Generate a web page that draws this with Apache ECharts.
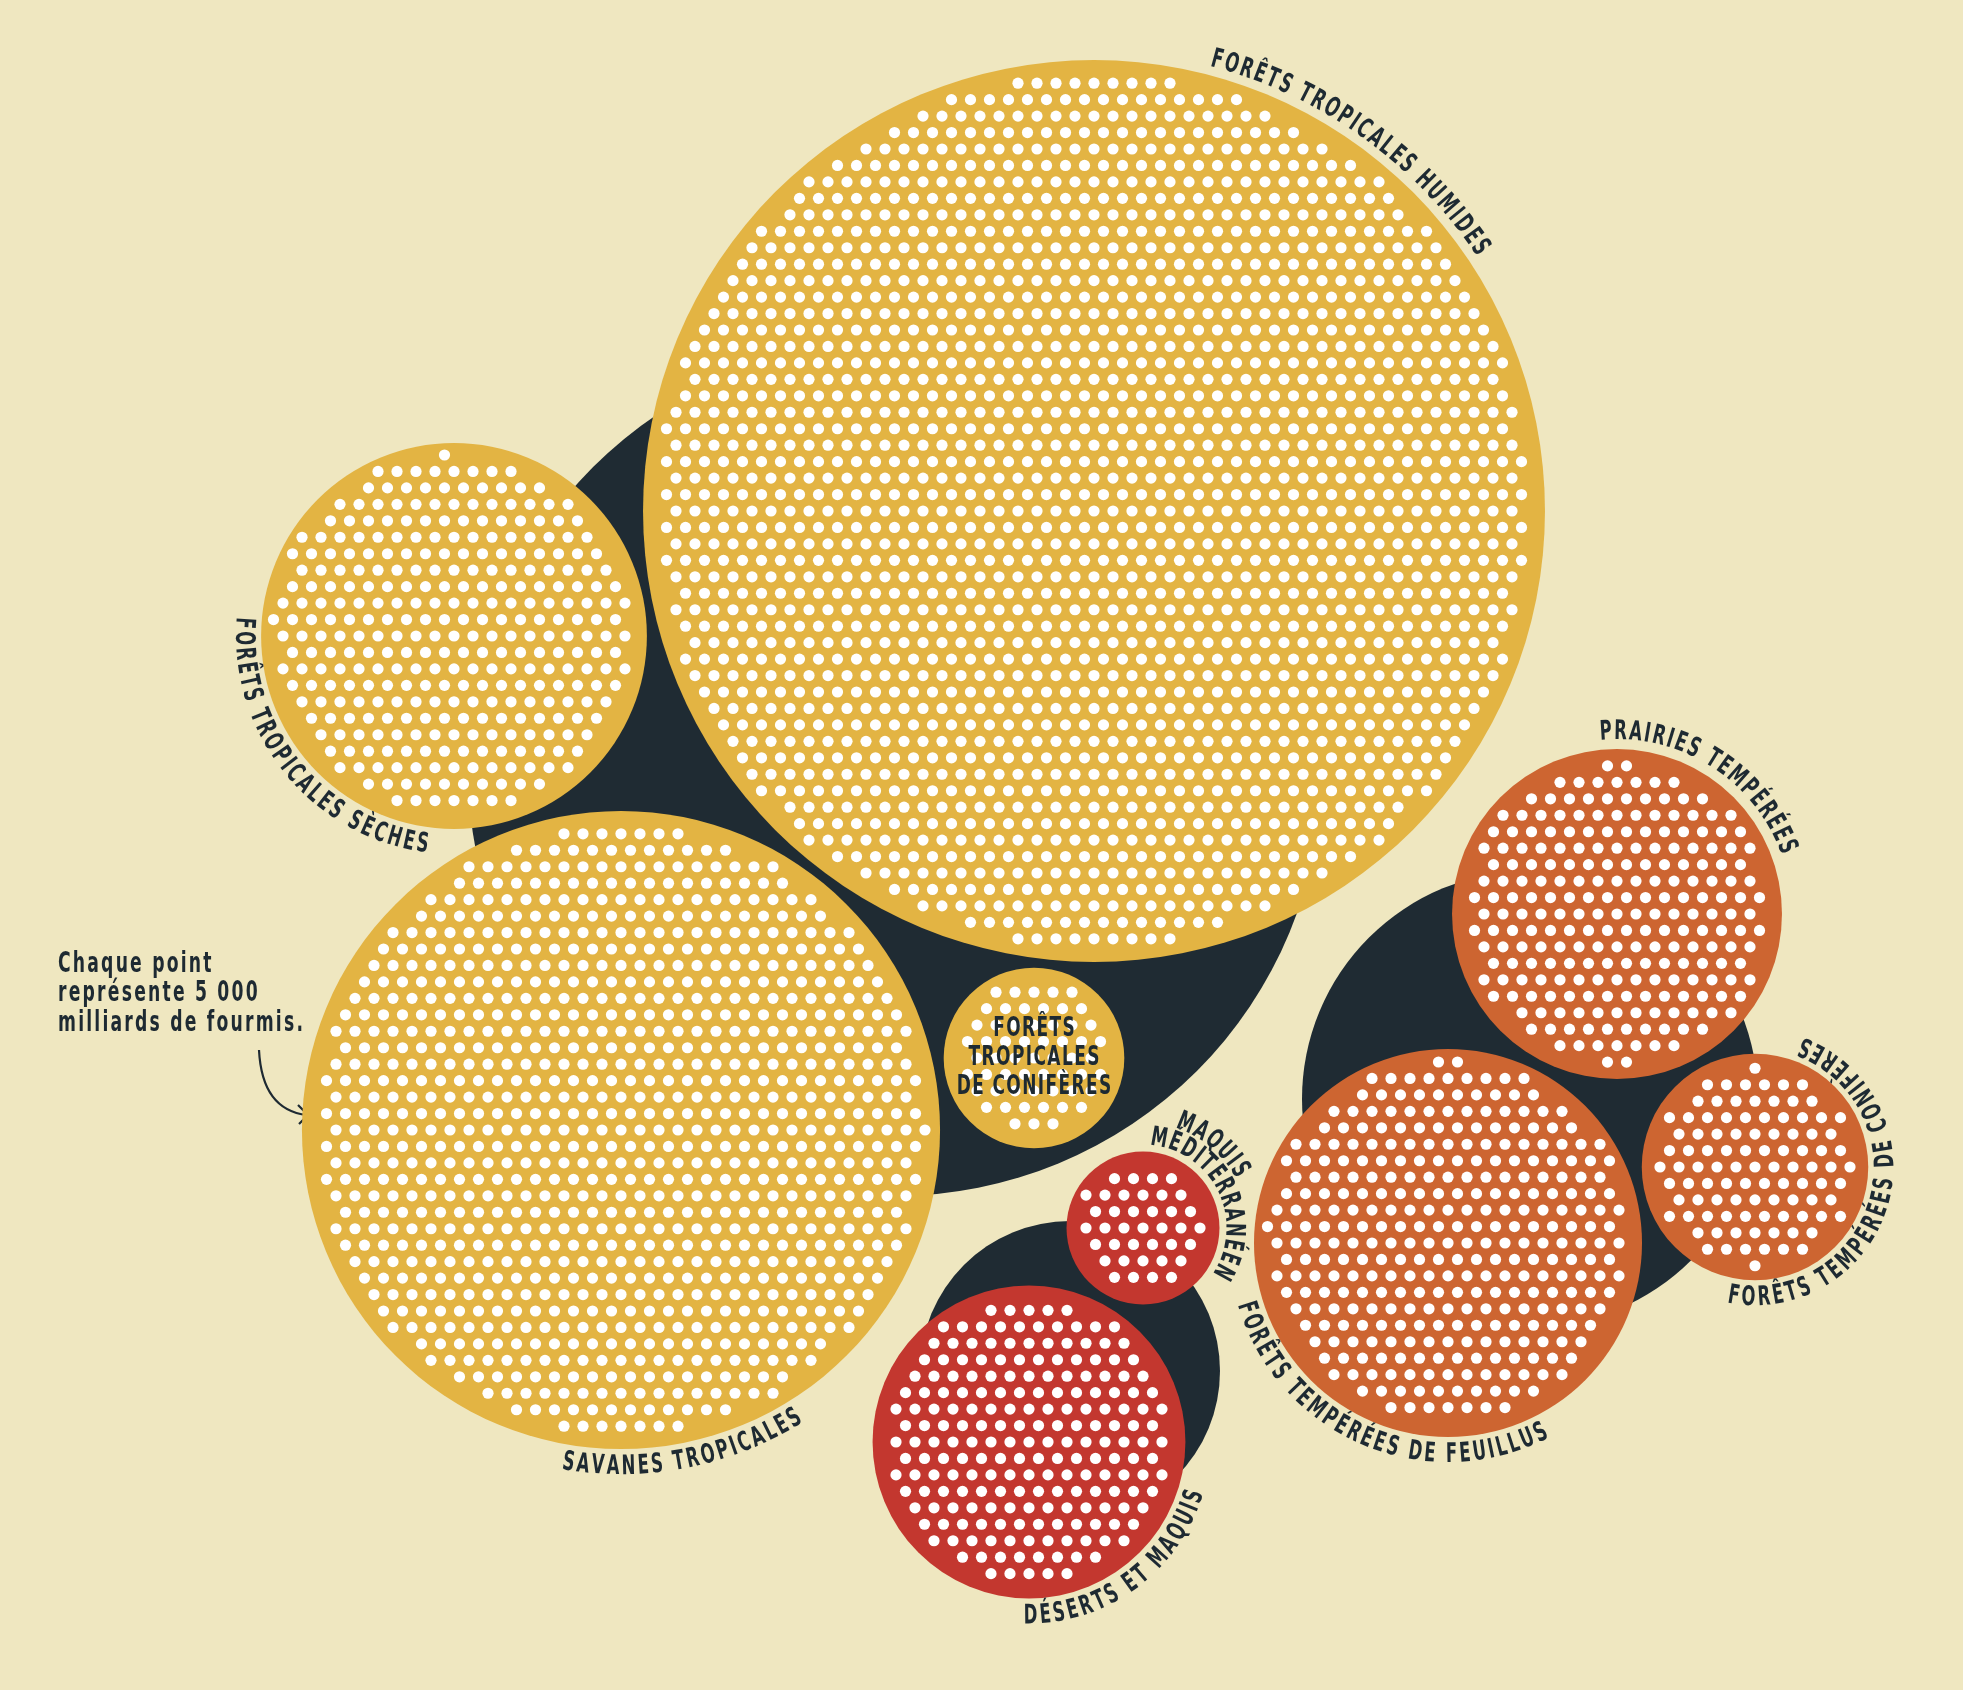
<!DOCTYPE html>
<html lang="fr"><head><meta charset="utf-8"><title>Fourmis par biome</title>
<style>html,body{margin:0;padding:0;background:#EFE7C0;overflow:hidden}#chart{width:1963px;height:1690px}</style>
<script src="https://cdn.jsdelivr.net/npm/echarts@6.0.0/dist/echarts.min.js"></script>
</head><body><div id="chart"></div><script>
// ---------------- data ----------------
const biomes = ['FORÊTS TROPICALES HUMIDES','FORÊTS TROPICALES SÈCHES','SAVANES TROPICALES',
  'FORÊTS TROPICALES DE CONIFÈRES','PRAIRIES TEMPÉRÉES','FORÊTS TEMPÉRÉES DE FEUILLUS',
  'FORÊTS TEMPÉRÉES DE CONIFÈRES','DÉSERTS ET MAQUIS','MAQUIS MÉDITERRANÉEN'];
// number of dots (1 dot = 5 000 milliards de fourmis)
const dotCounts = [1910, 318, 929, 57, 226, 322, 97, 201, 38];
const biomeGroup = [0, 0, 0, 0, 1, 1, 1, 2, 2];
const noteLines = ['Chaque point', 'représente 5 000', 'milliards de fourmis.'];

// ---------------- layout (px) ----------------
const biomeCenters = [[1094,511],[454,636],[621,1130],[1034,1058],[1617,914],[1448,1243],[1755,1167],[1029,1442],[1143,1228]];
const groupDiscs = [[895,769,427],[1530,1099,228],[1070,1371,150]];
const arcLabels = [
  {b:0, text:biomes[0], mid:-54.5, dir:1, off:16},
  {b:1, text:biomes[1], mid:141, dir:-1, off:18},
  {b:2, text:biomes[2], mid:79, dir:-1, off:18},
  {b:4, text:biomes[4], mid:-57.6, dir:1, off:17},
  {b:5, text:biomes[5], mid:113, dir:-1, off:18},
  {b:6, text:biomes[6], mid:16, dir:-1, off:18},
  {b:7, text:biomes[7], mid:54, dir:-1, off:18},
  {b:8, text:biomes[8].split(' ')[0], mid:-50, dir:1, off:36},
  {b:8, text:biomes[8].split(' ')[1], mid:-26, dir:1, off:14}
];
const centerLabel = {b:3, lines:['FORÊTS','TROPICALES','DE CONIFÈRES'], lineGap:29};

// ---------------- styles ----------------
const BG = '#EFE7C0', INK = '#1E2A32', DARK = '#1F2B33';
const groupColors = ['#E3B443', '#CD6531', '#C3372F'];
const DOT_STEP = 19, DOT_R = 5.6, RIM = 15;
const DOT_AREA = DOT_STEP * DOT_STEP * Math.sqrt(3) / 2;
const FAMILY = '"DejaVu Sans Condensed", "Liberation Sans Narrow", sans-serif';
const LABEL_FONT = 'bold 27px ' + FAMILY, LABEL_SX = 0.68, LABEL_TRACK = 2.3;
const CENTER_FONT = 'bold 27px ' + FAMILY, CENTER_SX = 0.7, CENTER_TRACK = 1.4;
const NOTE_FONT = 'bold 29px ' + FAMILY, NOTE_SX = 0.66, NOTE_TRACK = 2.2;

const mctx = document.createElement('canvas').getContext('2d');
function adv(ch, font, sx, track) { mctx.font = font; return mctx.measureText(ch).width * sx + track; }
function innerRadius(n) { return Math.sqrt(n * DOT_AREA / Math.PI); }
function outerRadius(n) { return innerRadius(n) + RIM; }

// N lattice points nearest to the centre (hexagonal packing)
function latticeDots(n) {
  const d = DOT_STEP, h = d * Math.sqrt(3) / 2;
  const R = innerRadius(n) + 2 * d;
  const rows = Math.ceil(R / h), cols = Math.ceil(R / d) + 1, pts = [];
  for (let j = -rows; j <= rows; j++) {
    const off = (j & 1) ? d / 2 : 0;
    for (let i = -cols; i <= cols; i++) {
      const x = i * d + off, y = j * h;
      pts.push([x, y, Math.hypot(x, y), Math.atan2(y, x)]);
    }
  }
  pts.sort((a, b) => (a[2] - b[2]) || (a[3] - b[3]));
  return pts.slice(0, n);
}

function charLine(str, cx, cy, font, sx, track, fill, align) {
  const ws = [...str].map(ch => adv(ch, font, sx, track));
  const total = ws.reduce((a, b) => a + b, 0) - track;
  let x = align === 'center' ? cx - total / 2 : cx;
  const els = [];
  [...str].forEach((ch, i) => {
    if (ch !== ' ') els.push({type:'text', x:x, y:cy, scaleX:sx, silent:true,
      style:{text:ch, font:font, fill:fill, align:'left', verticalAlign:'middle'}});
    x += ws[i];
  });
  return els;
}

const chart = echarts.init(document.getElementById('chart'), null, {renderer:'canvas'});

const noteEls = [];
noteLines.forEach((t, i) => noteEls.push(...charLine(t, 58, 964 + i * 29.5, NOTE_FONT, NOTE_SX, NOTE_TRACK, INK, 'left')));

chart.setOption({
  backgroundColor: BG,
  animation: false,
  grid: {left:0, right:0, top:0, bottom:0},
  xAxis: {type:'value', min:0, max:1963, show:false},
  yAxis: {type:'value', min:0, max:1690, inverse:true, show:false},
  series: [
    { type:'custom', name:'groupes', silent:true, clip:false,
      data: groupDiscs.map(g => [g[0], g[1], g[2]]),
      renderItem(params, api) {
        const c = api.coord([api.value(0), api.value(1)]);
        const r = api.size([api.value(2), 0])[0];
        return {type:'circle', shape:{cx:c[0], cy:c[1], r:r}, style:{fill:DARK}};
      }
    },
    { type:'custom', name:'biomes', silent:true, clip:false,
      data: biomeCenters.map((c, i) => [c[0], c[1], dotCounts[i], biomeGroup[i]]),
      renderItem(params, api) {
        const c = api.coord([api.value(0), api.value(1)]);
        const n = api.value(2), g = api.value(3);
        const unit = api.size([1, 0])[0];
        const children = [{type:'circle', shape:{cx:c[0], cy:c[1], r:outerRadius(n) * unit}, style:{fill:groupColors[g]}}];
        for (const p of latticeDots(n)) {
          children.push({type:'circle', shape:{cx:c[0] + p[0] * unit, cy:c[1] + p[1] * unit, r:DOT_R * unit}, style:{fill:'#FFFFFF'}});
        }
        return {type:'group', children};
      }
    },
    { type:'custom', name:'etiquettes', silent:true, clip:false,
      data: arcLabels.map(l => [biomeCenters[l.b][0], biomeCenters[l.b][1]]),
      renderItem(params, api) {
        const L = arcLabels[params.dataIndex];
        const c = api.coord([api.value(0), api.value(1)]);
        const unit = api.size([1, 0])[0];
        const R = (outerRadius(dotCounts[L.b]) + L.off) * unit;
        const chars = [...L.text];
        const ws = chars.map(ch => adv(ch, LABEL_FONT, LABEL_SX, LABEL_TRACK));
        const total = ws.reduce((a, b) => a + b, 0) - LABEL_TRACK;
        let a = L.mid * Math.PI / 180 - L.dir * total / (2 * R);
        const children = [];
        chars.forEach((ch, i) => {
          const gw = ws[i] - LABEL_TRACK;
          const th = a + L.dir * gw / (2 * R);
          a += L.dir * ws[i] / R;
          if (ch === ' ') return;
          const rot = L.dir > 0 ? -(th + Math.PI / 2) : Math.PI / 2 - th;
          children.push({type:'text', x:c[0] + R * Math.cos(th), y:c[1] + R * Math.sin(th), rotation:rot, scaleX:LABEL_SX,
            style:{text:ch, font:LABEL_FONT, fill:INK, align:'center', verticalAlign:'middle'}});
        });
        return {type:'group', children};
      }
    },
    { type:'custom', name:'etiquette centrale', silent:true, clip:false,
      data: [[biomeCenters[centerLabel.b][0], biomeCenters[centerLabel.b][1]]],
      renderItem(params, api) {
        const c = api.coord([api.value(0), api.value(1)]);
        const n = centerLabel.lines.length, children = [];
        centerLabel.lines.forEach((t, i) => {
          children.push(...charLine(t, c[0], c[1] + (i - (n - 1) / 2) * centerLabel.lineGap, CENTER_FONT, CENTER_SX, CENTER_TRACK, INK, 'center'));
        });
        return {type:'group', children};
      }
    }
  ],
  graphic: [
    {type:'group', silent:true, children: noteEls},
    {type:'bezierCurve', silent:true, shape:{x1:259, y1:1050, cpx1:262, cpy1:1110, x2:307, y2:1115},
      style:{stroke:INK, lineWidth:2.2, fill:null}},
    {type:'polyline', silent:true, shape:{points:[[298,1105],[308,1115],[299,1124]]},
      style:{stroke:INK, lineWidth:2.2, fill:null}}
  ]
});
</script></body></html>
